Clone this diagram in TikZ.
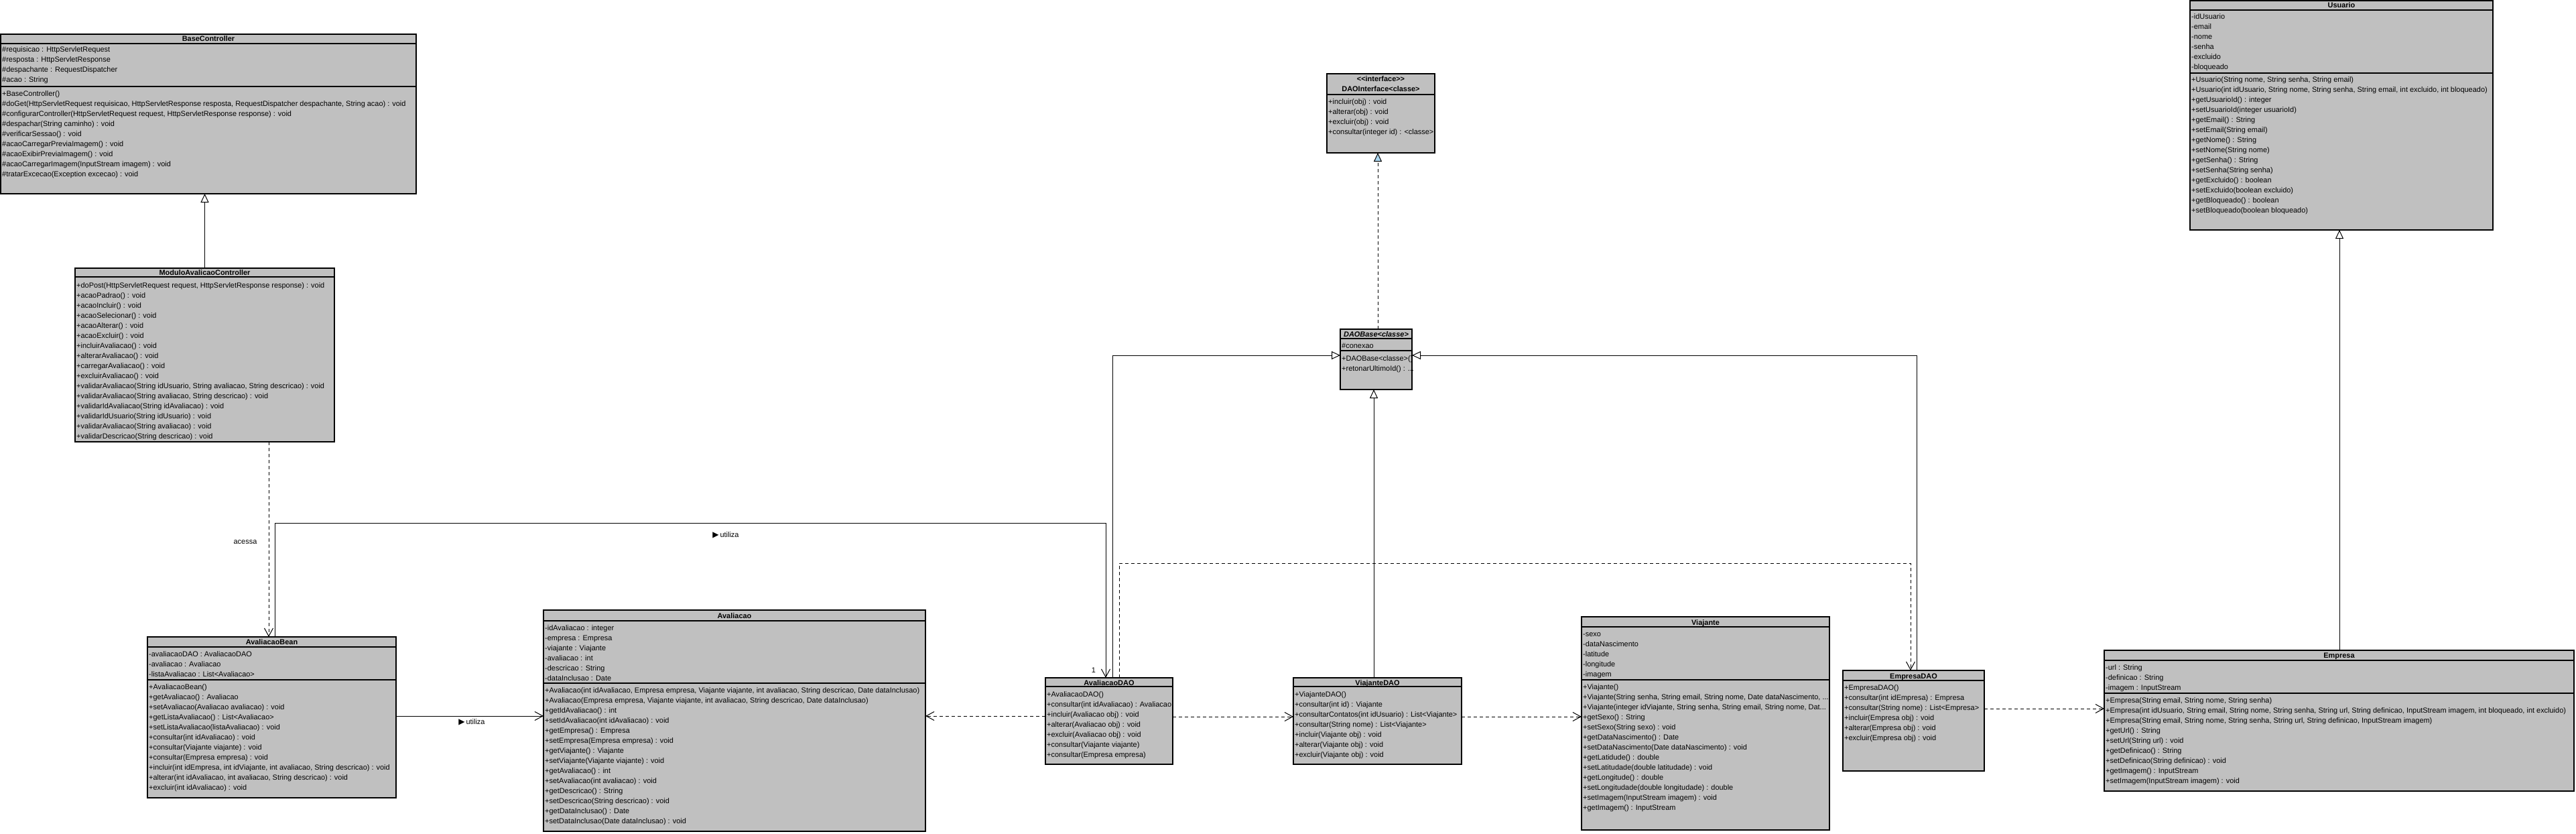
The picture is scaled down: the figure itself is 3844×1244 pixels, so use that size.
\documentclass[tikz,border=0pt]{standalone}
\usepackage{fontspec}
\setmainfont{Liberation Sans}[Ligatures=TeXOff]
\newfontfamily\symf{DejaVu Sans}
\usetikzlibrary{arrows.meta}
\definecolor{boxgray}{RGB}{192,192,192}
\definecolor{ifill}{RGB}{170,214,240}
\newcommand\rowfont{\fontsize{10.95}{13}\selectfont}
\newcommand\ddd{...}
\newcommand\umlrows[4]{\foreach \rowtext [count=\ri] in {#4} {\node[row] (#1-\ri) at (#2,{#3+4+15*(\ri-1)}) {\rowtext};}}
\tikzset{
  cls/.style={draw=black, line width=1.6pt, fill=boxgray, inner sep=0pt, outer sep=0pt, anchor=north west},
  sepline/.style={draw=black, line width=1.3pt},
  row/.style={anchor=base west, inner sep=0pt, font=\rowfont},
  hdr/.style={anchor=base, inner sep=0pt, font=\rowfont\bfseries},
  lbl/.style={inner sep=0pt, font=\rowfont},
  conn/.style={draw=black, line width=1pt},
  dep/.style={conn, dash pattern=on 5pt off 4pt, -{Straight Barb[length=12pt,width=13pt]}},
  assoc/.style={conn, -{Straight Barb[length=12pt,width=13pt]}},
  gen/.style={conn, -{Triangle[length=13pt,width=12pt,fill=white]}},
  realz/.style={conn, dash pattern=on 5pt off 4pt, -{Triangle[length=13pt,width=12pt,fill=ifill]}},
}
\begin{document}
\begin{tikzpicture}[x=1pt,y=-1pt]
\fill[white] (0,0) rectangle (3844,1244);
\useasboundingbox (0,0) rectangle (3844,1244);

% ---------------- BaseController
\node[cls, minimum width=620pt, minimum height=238pt] (bc) at (1,51) {};
\draw[sepline] (1,65) -- (621,65);
\draw[sepline] (1,129) -- (621,129);
\node[hdr] (bc-h) at (311,62) {BaseController};
\umlrows{bca}{3}{74}{{\#requisicao : HttpServletRequest},{\#resposta : HttpServletResponse},{\#despachante : RequestDispatcher},{\#acao : String}}
\umlrows{bcm}{3}{139}{{+BaseController()},{\#doGet(HttpServletRequest requisicao, HttpServletResponse resposta, RequestDispatcher despachante, String acao) : void},{\#configurarController(HttpServletRequest request, HttpServletResponse response) : void},{\#despachar(String caminho) : void},{\#verificarSessao() : void},{\#acaoCarregarPreviaImagem() : void},{\#acaoExibirPreviaImagem() : void},{\#acaoCarregarImagem(InputStream imagem) : void},{\#tratarExcecao(Exception excecao) : void}}

% ---------------- ModuloAvalicaoController
\node[cls, minimum width=387pt, minimum height=259pt] (mod) at (112,400) {};
\draw[sepline] (112,413) -- (499,413);
\node[hdr] (mod-h) at (305.5,410.5) {ModuloAvalicaoController};
\umlrows{modm}{114}{425}{{+doPost(HttpServletRequest request, HttpServletResponse response) : void},{+acaoPadrao() : void},{+acaoIncluir() : void},{+acaoSelecionar() : void},{+acaoAlterar() : void},{+acaoExcluir() : void},{+incluirAvaliacao() : void},{+alterarAvaliacao() : void},{+carregarAvaliacao() : void},{+excluirAvaliacao() : void},{+validarAvaliacao(String idUsuario, String avaliacao, String descricao) : void},{+validarAvaliacao(String avaliacao, String descricao) : void},{+validarIdAvaliacao(String idAvaliacao) : void},{+validarIdUsuario(String idUsuario) : void},{+validarAvaliacao(String avaliacao) : void},{+validarDescricao(String descricao) : void}}

% ---------------- DAOInterface
\node[cls, minimum width=161pt, minimum height=118pt] (dint) at (1980,110) {};
\draw[sepline] (1980,141) -- (2141,141);
\node[hdr] (dint-h1) at (2060.5,122) {<<interface>>};
\node[hdr] (dint-h2) at (2060.5,137) {DAOInterface<classe>};
\umlrows{dintm}{1982}{151}{{+incluir(obj) : void},{+alterar(obj) : void},{+excluir(obj) : void},{+consultar(integer id) : <classe>}}

% ---------------- DAOBase
\node[cls, minimum width=107pt, minimum height=90pt] (dbase) at (2000,491) {};
\draw[sepline] (2000,505) -- (2107,505);
\draw[sepline] (2000,523) -- (2107,523);
\node[hdr, font=\rowfont\bfseries\itshape] (dbase-h) at (2053.5,502) {DAOBase<classe>};
\umlrows{dbasea}{2002}{515}{{\#conexao}}
\umlrows{dbasem}{2002}{534}{{+DAOBase<classe>()},{+retonarUltimoId() : \ddd}}

% ---------------- Usuario
\node[cls, minimum width=452pt, minimum height=342pt] (usr) at (3268,1) {};
\draw[sepline] (3268,15) -- (3720,15);
\draw[sepline] (3268,109) -- (3720,109);
\node[hdr] (usr-h) at (3494,12) {Usuario};
\umlrows{usra}{3270}{24.5}{{-idUsuario},{-email},{-nome},{-senha},{-excluido},{-bloqueado}}
\umlrows{usrm}{3270}{118.5}{{+Usuario(String nome, String senha, String email)},{+Usuario(int idUsuario, String nome, String senha, String email, int excluido, int bloqueado)},{+getUsuarioId() : integer},{+setUsuarioId(integer usuarioId)},{+getEmail() : String},{+setEmail(String email)},{+getNome() : String},{+setNome(String nome)},{+getSenha() : String},{+setSenha(String senha)},{+getExcluido() : boolean},{+setExcluido(boolean excluido)},{+getBloqueado() : boolean},{+setBloqueado(boolean bloqueado)}}

% ---------------- AvaliacaoBean
\node[cls, minimum width=371pt, minimum height=240pt] (bean) at (220,950) {};
\draw[sepline] (220,965) -- (591,965);
\draw[sepline] (220,1014) -- (591,1014);
\node[hdr] (bean-h) at (405.5,961.5) {AvaliacaoBean};
\umlrows{beana}{222}{975}{{-avaliacaoDAO : AvaliacaoDAO},{-avaliacao : Avaliacao},{-listaAvaliacao : List<Avaliacao>}}
\umlrows{beanm}{222}{1024}{{+AvaliacaoBean()},{+getAvaliacao() : Avaliacao},{+setAvaliacao(Avaliacao avaliacao) : void},{+getListaAvaliacao() : List<Avaliacao>},{+setListaAvaliacao(listaAvaliacao) : void},{+consultar(int idAvaliacao) : void},{+consultar(Viajante viajante) : void},{+consultar(Empresa empresa) : void},{+incluir(int idEmpresa, int idViajante, int avaliacao, String descricao) : void},{+alterar(int idAvaliacao, int avaliacao, String descricao) : void},{+excluir(int idAvaliacao) : void}}

% ---------------- Avaliacao
\node[cls, minimum width=570pt, minimum height=330pt] (aval) at (811,910) {};
\draw[sepline] (811,926) -- (1381,926);
\draw[sepline] (811,1019) -- (1381,1019);
\node[hdr] (aval-h) at (1096,922) {Avaliacao};
\umlrows{avala}{813}{936}{{-idAvaliacao : integer},{-empresa : Empresa},{-viajante : Viajante},{-avaliacao : int},{-descricao : String},{-dataInclusao : Date}}
\umlrows{avalm}{813}{1029}{{+Avaliacao(int idAvaliacao, Empresa empresa, Viajante viajante, int avaliacao, String descricao, Date dataInclusao)},{+Avaliacao(Empresa empresa, Viajante viajante, int avaliacao, String descricao, Date dataInclusao)},{+getIdAvaliacao() : int},{+setIdAvaliacao(int idAvaliacao) : void},{+getEmpresa() : Empresa},{+setEmpresa(Empresa empresa) : void},{+getViajante() : Viajante},{+setViajante(Viajante viajante) : void},{+getAvaliacao() : int},{+setAvaliacao(int avaliacao) : void},{+getDescricao() : String},{+setDescricao(String descricao) : void},{+getDataInclusao() : Date},{+setDataInclusao(Date dataInclusao) : void}}

% ---------------- AvaliacaoDAO
\node[cls, minimum width=190pt, minimum height=129pt] (adao) at (1560,1011) {};
\draw[sepline] (1560,1024) -- (1750,1024);
\node[hdr] (adao-h) at (1655,1022) {AvaliacaoDAO};
\umlrows{adaom}{1562}{1035}{{+AvaliacaoDAO()},{+consultar(int idAvaliacao) : Avaliacao},{+incluir(Avaliacao obj) : void},{+alterar(Avaliacao obj) : void},{+excluir(Avaliacao obj) : void},{+consultar(Viajante viajante)},{+consultar(Empresa empresa)}}

% ---------------- ViajanteDAO
\node[cls, minimum width=251pt, minimum height=129pt] (vdao) at (1930,1011) {};
\draw[sepline] (1930,1024) -- (2181,1024);
\node[hdr] (vdao-h) at (2055.5,1022) {ViajanteDAO};
\umlrows{vdaom}{1932}{1035}{{+ViajanteDAO()},{+consultar(int id) : Viajante},{+consultarContatos(int idUsuario) : List<Viajante>},{+consultar(String nome) : List<Viajante>},{+incluir(Viajante obj) : void},{+alterar(Viajante obj) : void},{+excluir(Viajante obj) : void}}

% ---------------- Viajante
\node[cls, minimum width=370pt, minimum height=318pt] (viaj) at (2360,920) {};
\draw[sepline] (2360,935) -- (2730,935);
\draw[sepline] (2360,1014) -- (2730,1014);
\node[hdr] (viaj-h) at (2545,932) {Viajante};
\umlrows{viaja}{2362}{945}{{-sexo},{-dataNascimento},{-latitude},{-longitude},{-imagem}}
\umlrows{viajm}{2362}{1024}{{+Viajante()},{+Viajante(String senha, String email, String nome, Date dataNascimento, \ddd},{+Viajante(integer idViajante, String senha, String email, String nome, Dat\ddd},{+getSexo() : String},{+setSexo(String sexo) : void},{+getDataNascimento() : Date},{+setDataNascimento(Date dataNascimento) : void},{+getLatidude() : double},{+setLatitudade(double latitudade) : void},{+getLongitude() : double},{+setLongitudade(double longitudade) : double},{+setImagem(InputStream imagem) : void},{+getImagem() : InputStream}}

% ---------------- EmpresaDAO
\node[cls, minimum width=211pt, minimum height=150pt] (edao) at (2750,1000) {};
\draw[sepline] (2750,1015) -- (2961,1015);
\node[hdr] (edao-h) at (2855.5,1012) {EmpresaDAO};
\umlrows{edaom}{2752}{1025}{{+EmpresaDAO()},{+consultar(int idEmpresa) : Empresa},{+consultar(String nome) : List<Empresa>},{+incluir(Empresa obj) : void},{+alterar(Empresa obj) : void},{+excluir(Empresa obj) : void}}

% ---------------- Empresa
\node[cls, minimum width=701pt, minimum height=210pt] (emp) at (3140,970) {};
\draw[sepline] (3140,985) -- (3841,985);
\draw[sepline] (3140,1034) -- (3841,1034);
\node[hdr] (emp-h) at (3490.5,981) {Empresa};
\umlrows{empa}{3142}{995}{{-url : String},{-definicao : String},{-imagem : InputStream}}
\umlrows{empm}{3142}{1044}{{+Empresa(String email, String nome, String senha)},{+Empresa(int idUsuario, String email, String nome, String senha, String url, String definicao, InputStream imagem, int bloqueado, int excluido)},{+Empresa(String email, String nome, String senha, String url, String definicao, InputStream imagem)},{+getUrl() : String},{+setUrl(String url) : void},{+getDefinicao() : String},{+setDefinicao(String definicao) : void},{+getImagem() : InputStream},{+setImagem(InputStream imagem) : void}}

% ---------------- connectors
\coordinate (acx) at (401,0);
\coordinate (u1a) at (410,780);
\coordinate (u1b) at (1650,780);
\coordinate (u2) at (0,1068);
\coordinate (u3) at (0,1069);
\coordinate (u4) at (0,1057);
\coordinate (h1) at (1670,840);
\coordinate (h2) at (2851,840);
\coordinate (j1) at (1660,530);
\coordinate (k1) at (2050,0);
\coordinate (l1) at (2860,530);
\coordinate (m1) at (2056,0);
\coordinate (n1) at (3491,0);

\draw[gen] (mod.north) -- (mod.north |- bc.south);
\draw[dep] (acx |- mod.south) -- (acx |- bean.north);
\draw[assoc] (u1a |- bean.north) -- (u1a) -- (u1b) -- (u1b |- adao.north);
\draw[assoc] (bean.east |- u2) -- (aval.west |- u2);
\draw[dep] (adao.west |- u2) -- (aval.east |- u2);
\draw[dep] (adao.east |- u3) -- (vdao.west |- u3);
\draw[dep] (vdao.east |- u3) -- (viaj.west |- u3);
\draw[dep] (h1 |- adao.north) -- (h1) -- (h2) -- (h2 |- edao.north);
\draw[dep] (edao.east |- u4) -- (emp.west |- u4);
\draw[gen] (j1 |- adao.north) -- (j1) -- (j1 -| dbase.west);
\draw[gen] (k1 |- vdao.north) -- (k1 |- dbase.south);
\draw[gen] (l1 |- edao.north) -- (l1) -- (l1 -| dbase.east);
\draw[realz] (m1 |- dbase.north) -- (m1 |- dint.south);
\draw[gen] (n1 |- emp.north) -- (n1 |- usr.south);

% ---------------- labels
\node[lbl] (lacessa) at (366,809) {acessa};
\node[lbl] (lutil1) at (1083,798) {{\symf\fontsize{12}{12}\selectfont ▶}\,utiliza};
\node[lbl] (lutil2) at (704,1077) {{\symf\fontsize{12}{12}\selectfont ▶}\,utiliza};
\node[lbl] (lone) at (1632,1000) {1};
\end{tikzpicture}
\end{document}
